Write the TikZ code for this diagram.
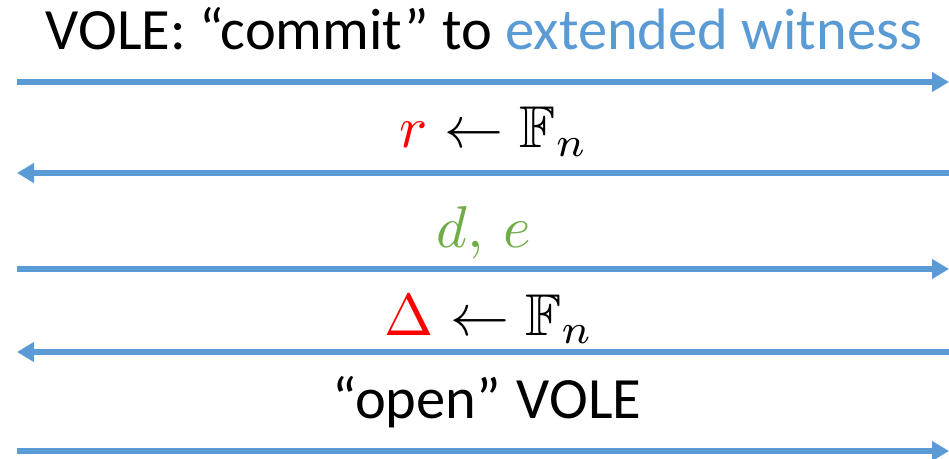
\documentclass[tikz,border=0pt]{standalone}
\usepackage{fontspec}
\usepackage{amssymb}
\setmainfont{Carlito}
\usetikzlibrary{arrows.meta}
\definecolor{lineblue}{HTML}{5B9BD5}
\definecolor{msgreen}{HTML}{70AD47}
\definecolor{msred}{HTML}{FF0000}
\newcommand{\bigmath}[1]{\scalebox{5.9}{\fontsize{10}{12}\selectfont$#1$}}
\tikzset{
  msgline/.style={draw=lineblue, line width=6pt},
  rarrow/.style={msgline, -{Triangle[length=17pt,width=19pt]}},
  larrow/.style={msgline, {Triangle[length=17pt,width=19pt]}-},
  msgtext/.style={anchor=base, inner sep=0pt, font=\fontsize{58.5}{64}\selectfont},
  mathtext/.style={anchor=base, inner sep=0pt}
}
\begin{document}
\begin{tikzpicture}[x=1pt,y=1pt]
\useasboundingbox (0,0) rectangle (949,458);
% text
\node[msgtext] (t1) at (484,408) {VOLE: “commit” to \textcolor{lineblue}{extended witness}};
\node[mathtext] (t2) at (494,310) {\bigmath{\textcolor{msred}{r}\leftarrow\mathbb{F}_n}};
\node[mathtext] (t3) at (484,210) {\bigmath{\textcolor{msgreen}{d,\,e}}};
\node[mathtext] (t4) at (489,123) {\bigmath{\textcolor{msred}{\Delta}\leftarrow\mathbb{F}_n}};
\node[msgtext] (t5) at (487,40) {“open”\hspace{16pt}VOLE};
% line ends
\coordinate (a1) at (17,376);  \coordinate (b1) at (949,376);
\coordinate (a2) at (17,285);  \coordinate (b2) at (949,285);
\coordinate (a3) at (17,189);  \coordinate (b3) at (949,189);
\coordinate (a4) at (17,106);  \coordinate (b4) at (949,106);
\coordinate (a5) at (17,7);    \coordinate (b5) at (949,7);
\draw[rarrow] (a1) -- (b1);
\draw[larrow] (a2) -- (b2);
\draw[rarrow] (a3) -- (b3);
\draw[larrow] (a4) -- (b4);
\draw[rarrow] (a5) -- (b5);
\end{tikzpicture}
\end{document}
